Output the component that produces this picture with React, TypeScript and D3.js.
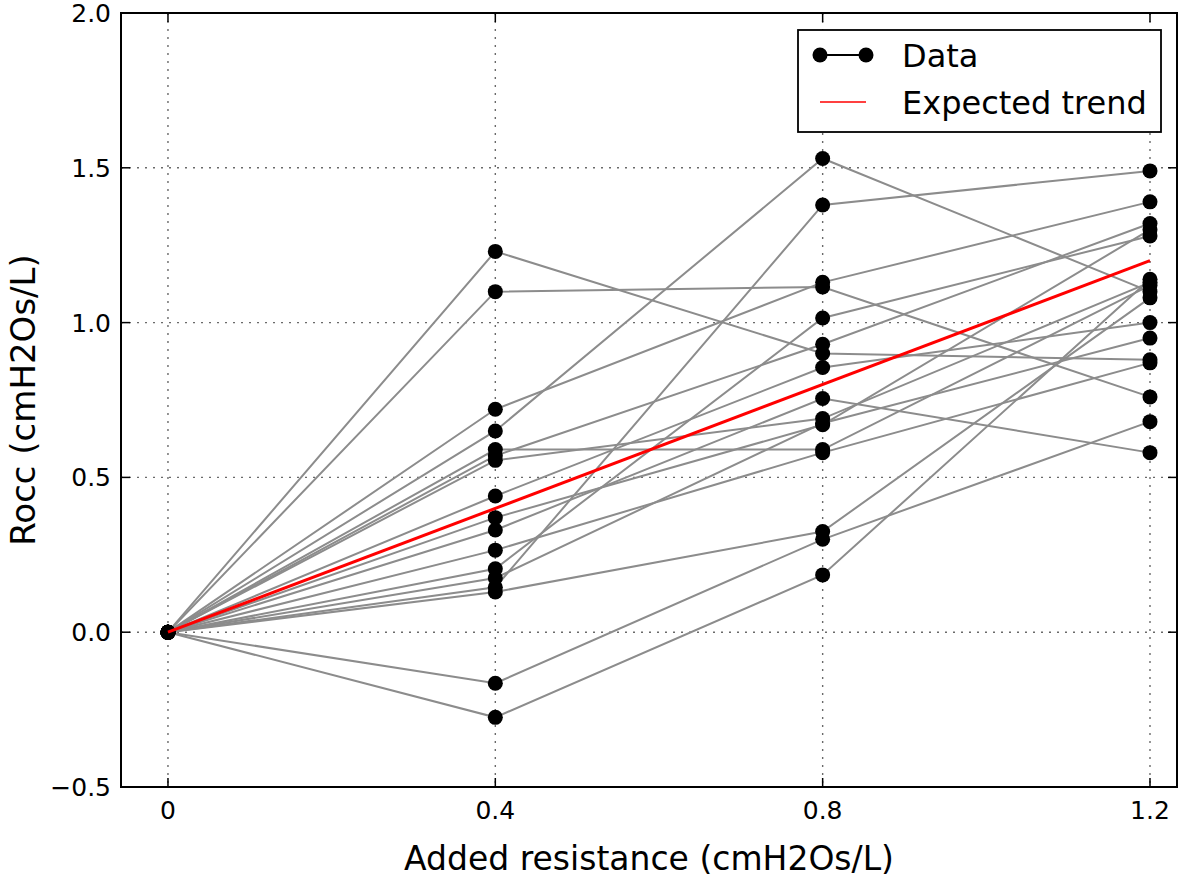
import { useEffect, useRef } from "react";
import * as d3 from "d3";

// added resistance levels (cmH2Os/L)
const LEVELS = [0, 0.4, 0.8, 1.2];

// Rocc per subject at each added resistance (first value always 0)
const SUBJECTS: number[][] = [
  [0, 1.23, 0.9, 0.88],
  [0, 1.1, 1.115, 0.76],
  [0, 0.72, 1.13, 1.39],
  [0, 0.65, 1.53, 1.1],
  [0, 0.59, 0.59, 1.12],
  [0, 0.57, 0.93, 1.32],
  [0, 0.555, 0.69, 1.13],
  [0, 0.44, 0.855, 1.0],
  [0, 0.37, 0.67, 1.3],
  [0, 0.33, 0.755, 0.58],
  [0, 0.265, 0.58, 0.87],
  [0, 0.205, 1.015, 1.28],
  [0, 0.175, 0.675, 0.95],
  [0, 0.145, 1.38, 1.49],
  [0, 0.13, 0.325, 1.08],
  [0, -0.165, 0.3, 0.68],
  [0, -0.275, 0.185, 1.14],
];

// expected trend: Rocc equals added resistance
const TREND_X = [0, 1.2];
const TREND_Y = [0, 1.2];

const X_TICKS = [0, 0.4, 0.8, 1.2];
const X_TICK_LABELS = ["0", "0.4", "0.8", "1.2"];
const Y_TICKS = [-0.5, 0, 0.5, 1.0, 1.5, 2.0];
const Y_TICK_LABELS = ["\u22120.5", "0.0", "0.5", "1.0", "1.5", "2.0"];

const FONT = "DejaVu Sans";

export default function App() {
  const svgRef = useRef<SVGSVGElement>(null);

  useEffect(() => {
    document.body.style.margin = "0";
    if (!svgRef.current) return;
    const svg = d3.select(svgRef.current);
    svg.selectAll("*").remove();

    const left = 121, right = 1177, top = 13, bottom = 787;
    const x = d3.scaleLinear().domain([-0.0574, 1.233]).range([left, right]);
    const y = d3.scaleLinear().domain([-0.5, 2.0]).range([bottom, top]);

    // grid
    const grid = svg.append("g").attr("stroke", "#6a6a6a").attr("stroke-width", 1.4).attr("stroke-dasharray", "2,6");
    X_TICKS.forEach((t) => {
      grid.append("line").attr("x1", x(t)).attr("x2", x(t)).attr("y1", top).attr("y2", bottom);
    });
    Y_TICKS.forEach((t) => {
      grid.append("line").attr("x1", left).attr("x2", right).attr("y1", y(t)).attr("y2", y(t));
    });

    // subjects
    const line = d3.line<number>()
      .x((_, i) => x(LEVELS[i]))
      .y((d) => y(d));

    SUBJECTS.forEach((s) => {
      svg.append("path")
        .datum(s)
        .attr("fill", "none")
        .attr("stroke", "#8c8c8c")
        .attr("stroke-width", 2)
        .attr("d", line);
    });
    SUBJECTS.forEach((s) => {
      svg.append("g")
        .selectAll("circle")
        .data(s)
        .join("circle")
        .attr("cx", (_, i) => x(LEVELS[i]))
        .attr("cy", (d) => y(d))
        .attr("r", 7.5)
        .attr("fill", "black");
    });

    // expected trend
    svg.append("line")
      .attr("x1", x(TREND_X[0])).attr("y1", y(TREND_Y[0]))
      .attr("x2", x(TREND_X[1])).attr("y2", y(TREND_Y[1]))
      .attr("stroke", "#ff0000")
      .attr("stroke-width", 3);

    // frame
    svg.append("rect")
      .attr("x", left).attr("y", top)
      .attr("width", right - left).attr("height", bottom - top)
      .attr("fill", "none").attr("stroke", "black").attr("stroke-width", 2);

    // ticks (inward, all four sides)
    const tl = 9;
    const ticks = svg.append("g").attr("stroke", "black").attr("stroke-width", 1.5);
    X_TICKS.forEach((t) => {
      ticks.append("line").attr("x1", x(t)).attr("x2", x(t)).attr("y1", bottom).attr("y2", bottom - tl);
      ticks.append("line").attr("x1", x(t)).attr("x2", x(t)).attr("y1", top).attr("y2", top + tl);
    });
    Y_TICKS.forEach((t) => {
      ticks.append("line").attr("x1", left).attr("x2", left + tl).attr("y1", y(t)).attr("y2", y(t));
      ticks.append("line").attr("x1", right).attr("x2", right - tl).attr("y1", y(t)).attr("y2", y(t));
    });

    // tick labels
    X_TICKS.forEach((t, i) => {
      svg.append("text")
        .attr("x", x(t)).attr("y", bottom + 32)
        .attr("text-anchor", "middle")
        .attr("font-family", FONT).attr("font-size", 25)
        .text(X_TICK_LABELS[i]);
    });
    Y_TICKS.forEach((t, i) => {
      svg.append("text")
        .attr("x", left - 10).attr("y", y(t) + 9)
        .attr("text-anchor", "end")
        .attr("font-family", FONT).attr("font-size", 25)
        .text(Y_TICK_LABELS[i]);
    });

    // axis labels
    svg.append("text")
      .attr("x", (left + right) / 2).attr("y", 870)
      .attr("text-anchor", "middle")
      .attr("font-family", FONT).attr("font-size", 33)
      .text("Added resistance (cmH2Os/L)");
    svg.append("text")
      .attr("transform", `translate(35,${(top + bottom) / 2}) rotate(-90)`)
      .attr("text-anchor", "middle")
      .attr("font-family", FONT).attr("font-size", 34)
      .text("Rocc (cmH2Os/L)");

    // legend
    const lg = svg.append("g");
    lg.append("rect")
      .attr("x", 798).attr("y", 30).attr("width", 363).attr("height", 102)
      .attr("fill", "white").attr("stroke", "black").attr("stroke-width", 1.8);
    lg.append("line").attr("x1", 820).attr("x2", 866).attr("y1", 55).attr("y2", 55)
      .attr("stroke", "black").attr("stroke-width", 2);
    [820, 866].forEach((cx) => lg.append("circle").attr("cx", cx).attr("cy", 55).attr("r", 7.5).attr("fill", "black"));
    lg.append("text").attr("x", 902).attr("y", 67)
      .attr("font-family", FONT).attr("font-size", 32).text("Data");
    lg.append("line").attr("x1", 820).attr("x2", 866).attr("y1", 102).attr("y2", 102)
      .attr("stroke", "#ff0000").attr("stroke-width", 1.5);
    lg.append("text").attr("x", 902).attr("y", 114)
      .attr("font-family", FONT).attr("font-size", 32).text("Expected trend");
  }, []);

  return <svg ref={svgRef} width={1181} height={878} style={{ display: "block", background: "white" }} />;
}
